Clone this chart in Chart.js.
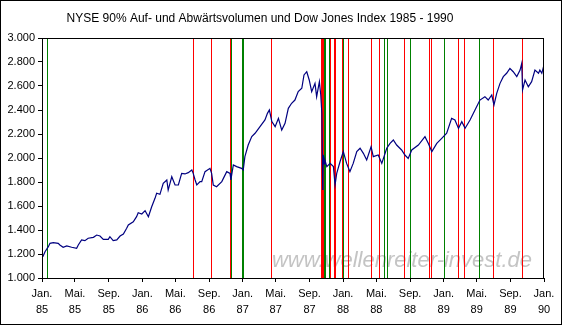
<!DOCTYPE html>
<html>
<head>
<meta charset="utf-8">
<script src="https://cdn.jsdelivr.net/npm/chart.js@4.4.1/dist/chart.umd.min.js"></script>
<style>
  html, body { margin: 0; padding: 0; background: #fff; }
  .frame { width: 560px; height: 323px; border: 1px solid #000; position: relative; background: #fff; }
  canvas { display: block; }
</style>
</head>
<body>
<div class="frame"><canvas id="chart" width="560" height="323"></canvas></div>
<script>
const chartTitle = "NYSE 90% Auf- und Abwärtsvolumen und Dow Jones Index 1985 - 1990";
const watermark = "www.wellenreiter-invest.de";

// x axis ticks (every 4 months)
const tickDates = [
  "1985-01-01", "1985-05-01", "1985-09-01", "1986-01-01", "1986-05-01", "1986-09-01",
  "1987-01-01", "1987-05-01", "1987-09-01", "1988-01-01", "1988-05-01", "1988-09-01",
  "1989-01-01", "1989-05-01", "1989-09-01", "1990-01-01",
];
const tickLabels = [
  ["Jan.", "85"], ["Mai.", "85"], ["Sep.", "85"], ["Jan.", "86"], ["Mai.", "86"], ["Sep.", "86"],
  ["Jan.", "87"], ["Mai.", "87"], ["Sep.", "87"], ["Jan.", "88"], ["Mai.", "88"], ["Sep.", "88"],
  ["Jan.", "89"], ["Mai.", "89"], ["Sep.", "89"], ["Jan.", "90"],
];

// Dow Jones (days since 1 Jan 1985)
const dowDays = [
  3, 11, 23, 29, 41, 59, 65, 77, 90, 108, 126, 132, 144, 156, 168, 187, 199, 211, 223, 241,
  247, 259, 272, 284, 296, 308, 314, 332, 344, 350, 363, 375, 387, 399, 411, 417, 429, 441, 454, 459,
  472, 484, 496, 508, 520, 532, 545, 550, 557, 563, 575,
  581, 593, 611, 617, 623, 635, 654, 672, 684, 687, 696, 708, 726, 732, 738, 750, 763, 775, 793, 811,
  820, 827, 836, 848, 860, 872, 884, 896, 908, 920, 932, 945, 953, 963, 972, 981, 993, 999, 1009, 1014,
  1018, 1021, 1022, 1023, 1026, 1029, 1036, 1048, 1060, 1066, 1072, 1084, 1096, 1108, 1120, 1132, 1145, 1157,
  1169, 1181, 1197, 1205, 1223, 1236, 1254, 1266, 1278, 1290, 1308, 1320, 1332, 1345, 1369, 1393, 1405, 1418, 1436, 1454,
  1472, 1490, 1502, 1515, 1527, 1539, 1557, 1575, 1593, 1611, 1623, 1636, 1644, 1654, 1666, 1678, 1690, 1702, 1714, 1727,
  1739, 1745, 1748, 1757, 1769, 1781, 1793, 1806, 1811, 1818, 1826,
];
const dowValues = [
  1178, 1219, 1261, 1289, 1294, 1289, 1275, 1256, 1267, 1256, 1247, 1275, 1317, 1311, 1331, 1339, 1358, 1350, 1322, 1322,
  1344, 1311, 1317, 1350, 1367, 1414, 1442, 1469, 1511, 1544, 1533, 1561, 1511, 1594, 1664, 1706, 1697, 1789, 1817, 1733,
  1844, 1775, 1775, 1872, 1867, 1878, 1900, 1872, 1817, 1775, 1803,
  1803, 1886, 1914, 1872, 1775, 1761, 1803, 1886, 1872, 1817, 1942, 1928, 1914, 1900, 2011, 2108, 2178, 2206, 2261, 2317,
  2372, 2400, 2303, 2261, 2331, 2233, 2289, 2414, 2456, 2483, 2553, 2581, 2692, 2719, 2650, 2553, 2622, 2511, 2636, 2525,
  2372, 1738, 1841, 2027, 1950, 1983, 1928, 1955, 1928, 1775, 1872, 1969, 2053, 1955, 1886, 1955, 2053, 2081,
  2039, 1983, 2094, 2011, 2025, 1955, 2081, 2122, 2150, 2108, 2067, 2025, 1997, 2067, 2108, 2178, 2122, 2053, 2122, 2164,
  2206, 2331, 2317, 2247, 2303, 2247, 2317, 2400, 2483, 2511, 2483, 2525, 2442, 2539, 2622, 2678, 2706, 2747, 2719, 2678,
  2733, 2789, 2567, 2650, 2594, 2636, 2733, 2706, 2733, 2706, 2775,
];

// 90% down days (red) and 90% up days (green)
const downDays = [
  "1986-07-07", "1986-09-11", "1986-11-18", "1987-04-14",
  "1987-10-14", "1987-10-16", "1987-10-19", "1987-10-22",
  "1987-11-16", "1987-11-30", "1987-12-04", "1987-12-29", "1988-01-20",
  "1988-04-14", "1988-05-12", "1988-08-11", "1988-11-10", "1988-11-17",
  "1989-02-23", "1989-03-17", "1989-06-30", "1989-10-13",
];
const upDays = [
  "1985-01-21", "1986-11-21", "1987-01-02", "1987-01-05",
  "1987-10-27", "1987-10-29", "1987-11-12", "1988-01-04",
  "1988-05-31", "1988-06-09", "1988-09-02", "1989-01-03", "1989-05-11",
];

const Y_MIN = 1000;
const Y_MAX = 3000;
const START = Date.UTC(1985, 0, 1);

function dayOf(str) {
  const [y, m, d] = str.split("-").map(Number);
  return (Date.UTC(y, m - 1, d) - START) / 86400000;
}

function verticals(dates) {
  const pts = [];
  dates.forEach((s) => {
    const d = dayOf(s);
    pts.push({ x: d, y: Y_MIN }, { x: d, y: Y_MAX }, { x: d, y: null });
  });
  return pts;
}

function fmt(v) {
  return String(v).replace(/\B(?=(\d{3})+(?!\d))/g, ".");
}

const tickDays = tickDates.map(dayOf);
const font = "'Liberation Sans', Arial, sans-serif";

const extras = {
  id: "extras",
  // keep the 1px day markers on whole pixels so they stay crisp
  afterDatasetsUpdate(chart) {
    chart.data.datasets.forEach((ds, i) => {
      if (!ds.marker) return;
      chart.getDatasetMeta(i).data.forEach((pt) => {
        pt.x = Math.floor(pt.x) + 0.5;
      });
    });
  },
  beforeDatasetsDraw(chart) {
    const { ctx } = chart;
    ctx.save();
    ctx.font = "italic 22px " + font;
    ctx.fillStyle = "#c4c4c4";
    ctx.textAlign = "center";
    ctx.textBaseline = "middle";
    ctx.fillText(watermark, 401, 260);
    ctx.restore();
  },
  afterDraw(chart) {
    const { ctx, chartArea } = chart;
    ctx.save();
    ctx.strokeStyle = "#000";
    ctx.lineWidth = 1;
    ctx.strokeRect(chartArea.left + 0.5, chartArea.top + 0.5, chartArea.right - chartArea.left - 1, chartArea.bottom - chartArea.top);
    ctx.font = "12px " + font;
    ctx.fillStyle = "#000";
    ctx.textAlign = "center";
    ctx.textBaseline = "middle";
    ctx.fillText(chartTitle, 259, 18);
    ctx.restore();
  },
};

new Chart(document.getElementById("chart"), {
  type: "line",
  data: {
    datasets: [
      {
        label: "Dow Jones",
        data: dowDays.map((d, i) => ({ x: d, y: dowValues[i] })),
        borderColor: "#000080",
        borderWidth: 1.2,
        pointRadius: 0,
        tension: 0,
      },
      {
        label: "90% Aufwärtsvolumen",
        marker: true,
        data: verticals(upDays),
        borderColor: "#008000",
        borderWidth: 1,
        pointRadius: 0,
        spanGaps: false,
      },
      {
        label: "90% Abwärtsvolumen",
        marker: true,
        data: verticals(downDays),
        borderColor: "#ff0000",
        borderWidth: 1,
        pointRadius: 0,
        spanGaps: false,
      },
    ],
  },
  options: {
    responsive: false,
    animation: false,
    devicePixelRatio: 1,
    layout: { padding: { top: 37, right: 17, left: 0, bottom: 0 } },
    plugins: {
      legend: { display: false },
      title: { display: false },
      tooltip: { enabled: false },
    },
    scales: {
      x: {
        type: "linear",
        min: 0,
        max: dayOf("1990-01-01"),
        afterBuildTicks: (scale) => {
          scale.ticks = tickDays.map((v) => ({ value: v }));
        },
        afterFit: (scale) => {
          scale.height = 46;
        },
        ticks: {
          autoSkip: false,
          maxRotation: 0,
          padding: 4,
          color: "#000",
          font: { family: font, size: 11, lineHeight: 1.45 },
          callback: (value, index) => tickLabels[index],
        },
        grid: { drawOnChartArea: false, tickLength: 4, color: "#000" },
        border: { color: "#000" },
      },
      y: {
        min: Y_MIN,
        max: Y_MAX,
        afterFit: (scale) => {
          scale.width = 41;
        },
        ticks: {
          stepSize: 200,
          padding: 3,
          color: "#000",
          font: { family: font, size: 11 },
          callback: (value) => fmt(value),
        },
        grid: { drawOnChartArea: false, tickLength: 4, color: "#000" },
        border: { color: "#000" },
      },
    },
  },
  plugins: [extras],
});
</script>
</body>
</html>
